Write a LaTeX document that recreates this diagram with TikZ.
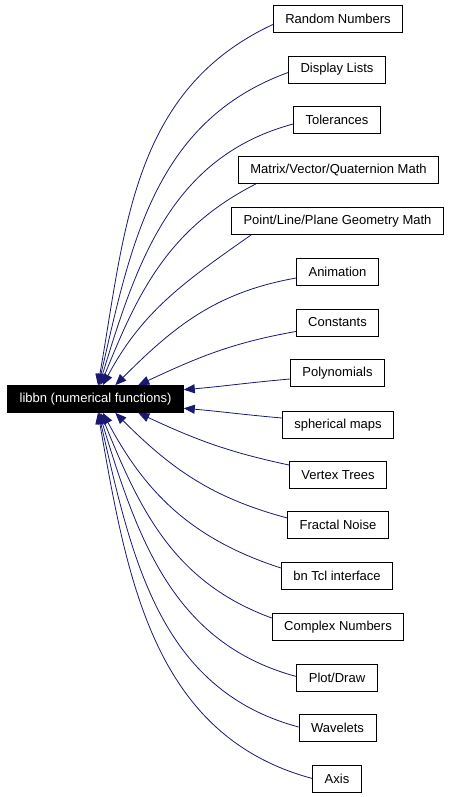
\documentclass[tikz,border=0pt]{standalone}
\usepackage{fontspec}
\setmainfont{Liberation Sans}
\usetikzlibrary{arrows.meta}
\definecolor{depblue}{RGB}{25,25,112}

\begin{document}
\begin{tikzpicture}[x=1pt,y=1pt,
  modbox/.style={draw=black,line width=0.8pt,fill=white,minimum height=27pt,
    inner xsep=12pt,font=\fontsize{13}{15}\selectfont},
  curmod/.style={modbox,fill=black,text=white},
  dep/.style={draw=depblue,line width=0.8pt,-{Triangle[length=11pt,width=9pt]}}]
  \useasboundingbox (0,0) rectangle (448,-797);
  \node[curmod] (main) at (95.5,-399) {libbn (numerical functions)};
  % modules on the right
  \node[modbox] (rn)  at (338,-18.5)  {Random Numbers};
  \node[modbox] (dl)  at (337,-69.5)  {Display Lists};
  \node[modbox] (tol) at (337,-120)   {Tolerances};
  \node[modbox] (mat) at (338.5,-170) {Matrix/Vector/Quaternion Math};
  \node[modbox] (plg) at (337.5,-221) {Point/Line/Plane Geometry Math};
  \node[modbox] (ani) at (337.5,-272) {Animation};
  \node[modbox] (con) at (337.5,-322.5) {Constants};
  \node[modbox] (pol) at (337.5,-373) {Polynomials};
  \node[modbox] (sph) at (338,-425)   {spherical maps};
  \node[modbox] (vt)  at (338,-475)   {Vertex Trees};
  \node[modbox] (fn)  at (338,-525)   {Fractal Noise};
  \node[modbox] (tcl) at (337,-576)   {bn Tcl interface};
  \node[modbox] (cpx) at (338,-627)   {Complex Numbers};
  \node[modbox] (pd)  at (337,-677.5) {Plot/Draw};
  \node[modbox] (wav) at (337.5,-728) {Wavelets};
  \node[modbox] (ax)  at (337,-778.5) {Axis};
  % dependency edges
  \draw[dep] ([yshift=-6pt]rn.west) to[out=205,in=80] (main.80);
  \draw[dep] ([yshift=-3pt]dl.west) to[out=200,in=77] (main.78);
  \draw[dep] ([yshift=-4pt]tol.west) to[out=195,in=73] (main.75);
  \draw[dep] ([xshift=18pt]mat.south west) to[out=207,in=68] (main.70);
  \draw[dep] ([xshift=20pt]plg.south west) to[out=215,in=62] (main.62);
  \draw[dep] ([yshift=-6pt]ani.west) to[out=190,in=45] (main.35);
  \draw[dep] ([yshift=-9pt]con.west) to[out=190,in=25] (main.18);
  \draw[dep] ([yshift=-6pt]pol.west) to[out=185,in=5] (main.6);
  \draw[dep] ([yshift=7pt]sph.west) to[out=175,in=-5] (main.-6);
  \draw[dep] ([yshift=10pt]vt.west) to[out=168,in=-25] (main.-18);
  \draw[dep] ([yshift=7pt]fn.west) to[out=165,in=-45] (main.-35);
  \draw[dep] ([yshift=8pt]tcl.west) to[out=162,in=-62] (main.-62);
  \draw[dep] ([yshift=9pt]cpx.west) to[out=160,in=-68] (main.-70);
  \draw[dep] ([yshift=1pt]pd.west) to[out=165,in=-73] (main.-75);
  \draw[dep] ([yshift=1pt]wav.west) to[out=165,in=-77] (main.-78);
  \draw[dep] (ax.west) to[out=165,in=-80] (main.-80);
\end{tikzpicture}
\end{document}
